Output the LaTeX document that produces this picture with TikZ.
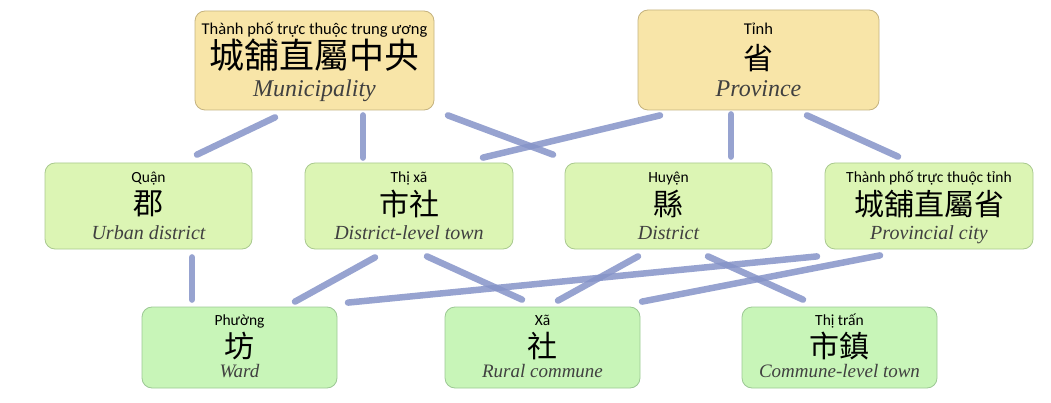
\documentclass[tikz,border=0pt]{standalone}
\usepackage{fontspec}
\setmainfont{Liberation Serif}
\newfontfamily\labfont{Carlito}
\newfontfamily\cjk{Noto Sans CJK TC}
\usetikzlibrary{calc}
\definecolor{topfill}{HTML}{F8E5A8}
\definecolor{topline}{HTML}{C4B27E}
\definecolor{midfill}{HTML}{DCF5B4}
\definecolor{midline}{HTML}{A9C98F}
\definecolor{botfill}{HTML}{C8F5B8}
\definecolor{botline}{HTML}{9CC894}
\definecolor{linkcol}{HTML}{8593C8}
\definecolor{engcol}{HTML}{404040}
\begin{document}
\begin{tikzpicture}[x=1pt,y=-1pt,
  box/.style={rounded corners=10pt, line width=0.8pt, inner sep=0pt},
  topbox/.style={box, fill=topfill, draw=topline},
  midbox/.style={box, fill=midfill, draw=midline},
  botbox/.style={box, fill=botfill, draw=botline},
  lbl/.style={anchor=base, inner sep=0pt, font=\labfont\fontsize{15.5}{17}\selectfont},
  toplbl/.style={lbl, font=\labfont\fontsize{16.5}{18}\selectfont},
  han/.style={anchor=center, inner sep=0pt, font=\cjk\fontsize{30}{32}\selectfont},
  bighan/.style={han, font=\cjk\fontsize{35}{37}\selectfont},
  eng/.style={anchor=base, inner sep=0pt, text=engcol, font=\itshape\fontsize{20}{22}\selectfont},
  topeng/.style={eng, font=\itshape\fontsize{24}{26}\selectfont},
  boteng/.style={eng, font=\itshape\fontsize{19}{21}\selectfont},
  link/.style={draw=linkcol, line width=6.5pt, line cap=round, opacity=0.85}]
\useasboundingbox (0,0) rectangle (1051,403);

% top row
\node[topbox, minimum width=239pt, minimum height=99pt] (mun) at (314.5,60.5) {};
\node[toplbl] (mun-l) at (314.5,34.3) {Thành phố trực thuộc trung ương};
\node[bighan] (mun-h) at (314.5,55.5) {城舖直屬中央};
\node[topeng] (mun-e) at (314.5,96.7) {Municipality};

\node[topbox, minimum width=241pt, minimum height=100pt] (prov) at (758.5,60) {};
\node[toplbl] (prov-l) at (758.5,35) {Tỉnh};
\node[han] (prov-h) at (758.5,58) {省};
\node[topeng] (prov-e) at (758.5,96.5) {Province};

% middle row
\node[midbox, minimum width=207pt, minimum height=86pt] (quan) at (148.5,206) {};
\node[lbl] (quan-l) at (148.5,182.7) {Quận};
\node[han] (quan-h) at (148.5,203.7) {郡};
\node[eng] (quan-e) at (148.5,239.3) {Urban district};

\node[midbox, minimum width=208pt, minimum height=86pt] (thixa) at (409,206) {};
\node[lbl] (thixa-l) at (409,182.7) {Thị xã};
\node[han] (thixa-h) at (409,203.7) {市社};
\node[eng] (thixa-e) at (409,239.3) {District-level town};

\node[midbox, minimum width=207pt, minimum height=86pt] (huyen) at (668.5,206) {};
\node[lbl] (huyen-l) at (668.5,182.7) {Huyện};
\node[han] (huyen-h) at (668.5,203.7) {縣};
\node[eng] (huyen-e) at (668.5,239.3) {District};

\node[midbox, minimum width=208pt, minimum height=86pt] (tptinh) at (929,206) {};
\node[lbl] (tptinh-l) at (929,182.7) {Thành phố trực thuộc tỉnh};
\node[han] (tptinh-h) at (929,203.7) {城舖直屬省};
\node[eng] (tptinh-e) at (929,239.3) {Provincial city};

% bottom row
\node[botbox, minimum width=195pt, minimum height=81pt] (phuong) at (239.5,347.5) {};
\node[lbl] (phuong-l) at (239.5,325) {Phường};
\node[han] (phuong-h) at (239.5,345.8) {坊};
\node[boteng] (phuong-e) at (239.5,377.3) {Ward};

\node[botbox, minimum width=195pt, minimum height=81pt] (xa) at (542.5,347.5) {};
\node[lbl] (xa-l) at (542.5,325) {Xã};
\node[han] (xa-h) at (542.5,345.8) {社};
\node[boteng] (xa-e) at (542.5,377.3) {Rural commune};

\node[botbox, minimum width=195pt, minimum height=81pt] (thitran) at (839.5,347.5) {};
\node[lbl] (thitran-l) at (839.5,325) {Thị trấn};
\node[han] (thitran-h) at (839.5,345.8) {市鎮};
\node[boteng] (thitran-e) at (839.5,377.3) {Commune-level town};

% connectors
\draw[link] ($(mun.south)+(-39.5,7)$) -- ($(quan.north)+(48.5,-8)$);
\draw[link] ($(mun.south)+(48.5,5)$) -- ($(thixa.north)+(-46,-5)$);
\draw[link] ($(mun.south)+(133.5,5)$) -- ($(huyen.north)+(-115.5,-8)$);
\draw[link] ($(prov.south)+(-98.5,5)$) -- ($(thixa.north)+(74,-5)$);
\draw[link] ($(prov.south)+(-27.5,4)$) -- ($(huyen.north)+(62.5,-6)$);
\draw[link] ($(prov.south)+(48.5,5)$) -- ($(tptinh.north)+(-31,-6)$);
\draw[link] ($(quan.south)+(43.5,8)$) -- ($(phuong.north)+(-47.5,-7)$);
\draw[link] ($(thixa.south)+(-34,8)$) -- ($(phuong.north)+(55.5,-5)$);
\draw[link] ($(thixa.south)+(18,7)$) -- ($(xa.north)+(-20.5,-7)$);
\draw[link] ($(huyen.south)+(-30.5,7)$) -- ($(xa.north)+(15.5,-6)$);
\draw[link] ($(huyen.south)+(39.5,7)$) -- ($(thitran.north)+(-36.5,-7)$);
\draw[link] ($(tptinh.south)+(-112,7)$) -- ($(phuong.north)+(108.5,-4)$);
\draw[link] ($(tptinh.south)+(-49,6)$) -- ($(xa.north)+(99.5,-5)$);
\end{tikzpicture}
\end{document}
